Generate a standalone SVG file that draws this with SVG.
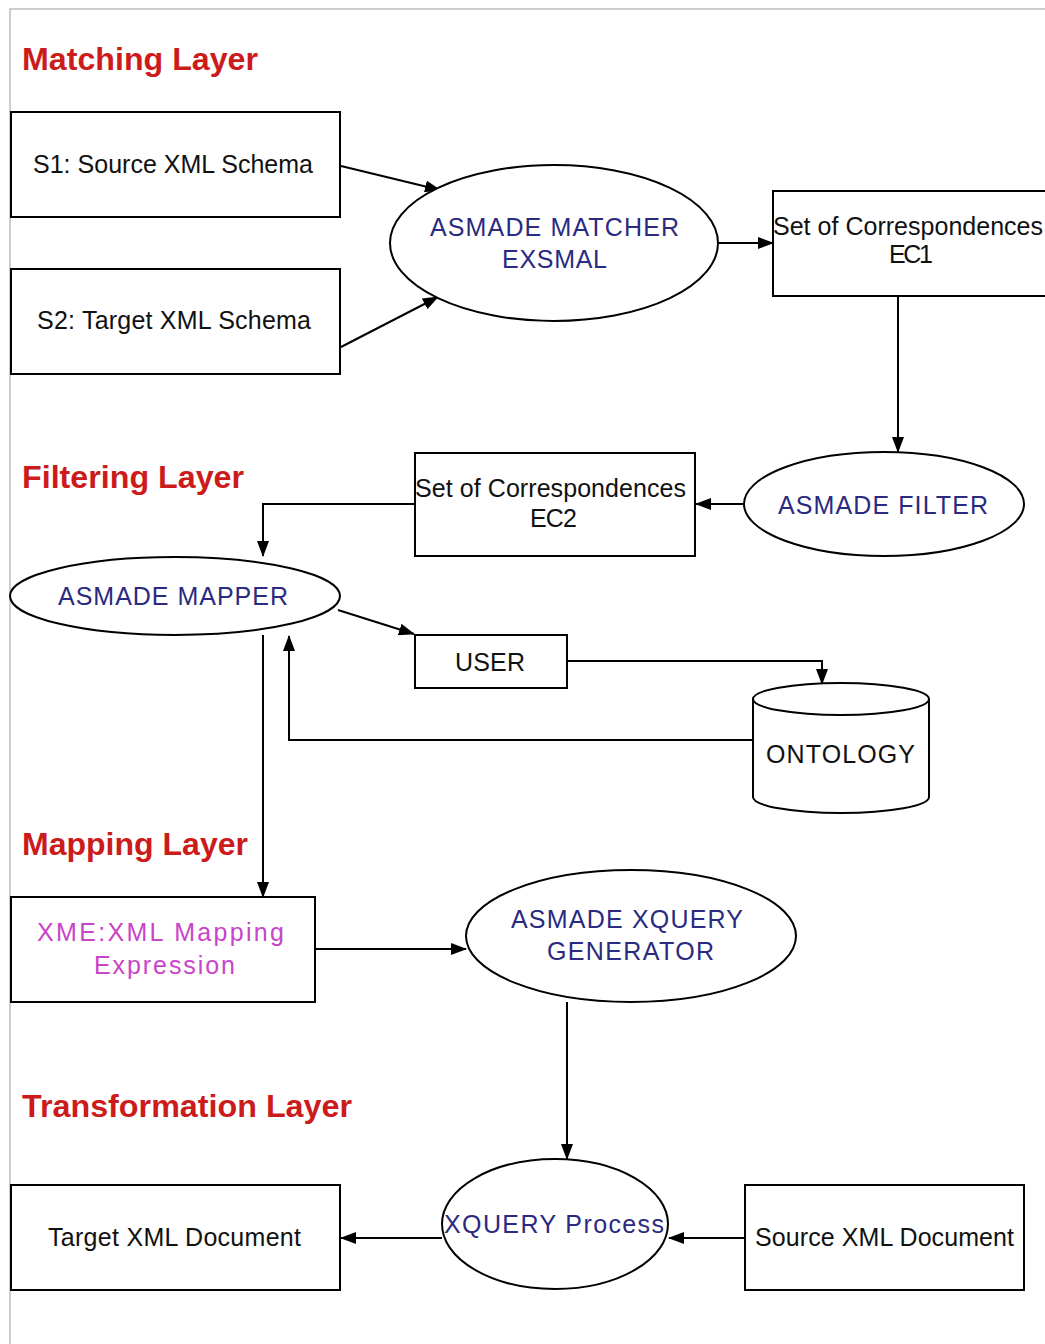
<svg xmlns="http://www.w3.org/2000/svg" width="1045" height="1344" viewBox="0 0 1045 1344">
  <defs>
    <marker id="arrow" markerUnits="userSpaceOnUse" markerWidth="16" markerHeight="12" refX="15" refY="6" orient="auto">
      <path d="M0,0 L16,6 L0,12 Z" fill="#000"/>
    </marker>
    <style>
      .frame { stroke: #bdbdbd; stroke-width: 1.5; fill: none; }
      .box { fill: #fff; stroke: #000; stroke-width: 2; }
      .shape { fill: #fff; stroke: #000; stroke-width: 2; }
      .edge { fill: none; stroke: #000; stroke-width: 2; marker-end: url(#arrow); }
      .layer { font-family: "Liberation Sans", Arial, sans-serif; font-weight: bold; font-size: 32px; fill: #cc1b1b; }
      .txt { font-family: "Liberation Sans", Arial, sans-serif; font-size: 25px; fill: #111; }
      .blue { fill: #2a2a80; }
      .pink { fill: #c844c8; }
    </style>
  </defs>

  <rect width="1045" height="1344" fill="#fff"/>
  <!-- outer frame (top and left edges) -->
  <path class="frame" d="M10,1344 L10,9 L1045,9"/>

  <!-- layer headings -->
  <g id="layer-labels">
    <text class="layer" x="22" y="70" textLength="236" lengthAdjust="spacingAndGlyphs">Matching Layer</text>
    <text class="layer" x="22" y="488" textLength="222" lengthAdjust="spacingAndGlyphs">Filtering Layer</text>
    <text class="layer" x="22" y="855" textLength="226" lengthAdjust="spacingAndGlyphs">Mapping Layer</text>
    <text class="layer" x="22" y="1117" textLength="330" lengthAdjust="spacingAndGlyphs">Transformation Layer</text>
  </g>

  <!-- connectors -->
  <g id="connectors">
    <path class="edge" d="M341,166 L440,190"/>
    <path class="edge" d="M341,347 L438,297"/>
    <path class="edge" d="M719,243 L773,243"/>
    <path class="edge" d="M898,296 L898,452"/>
    <path class="edge" d="M744,504 L696,504"/>
    <path class="edge" d="M415,504 L263,504 L263,556"/>
    <path class="edge" d="M338,610 L414,634"/>
    <path class="edge" d="M567,661 L822,661 L822,684"/>
    <path class="edge" d="M752,740 L289,740 L289,636"/>
    <path class="edge" d="M263,635 L263,897"/>
    <path class="edge" d="M315,949 L466,949"/>
    <path class="edge" d="M567,1002 L567,1159"/>
    <path class="edge" d="M745,1238 L669,1238"/>
    <path class="edge" d="M442,1238 L341,1238"/>
  </g>

  <g id="s1">
    <rect class="box" x="11" y="112" width="329" height="105"/>
    <text class="txt" x="33" y="173" textLength="280" lengthAdjust="spacing">S1: Source XML Schema</text>
  </g>

  <g id="s2">
    <rect class="box" x="11" y="269" width="329" height="105"/>
    <text class="txt" x="37" y="329" textLength="274" lengthAdjust="spacing">S2: Target XML Schema</text>
  </g>

  <g id="matcher">
    <ellipse class="shape" cx="554" cy="243" rx="164" ry="78"/>
    <text class="txt blue" x="430" y="236" textLength="249" lengthAdjust="spacing">ASMADE MATCHER</text>
    <text class="txt blue" x="502" y="268" textLength="105" lengthAdjust="spacing">EXSMAL</text>
  </g>

  <g id="ec1">
    <rect class="box" x="773" y="191" width="280" height="105"/>
    <text class="txt" x="773" y="235" textLength="270" lengthAdjust="spacing">Set of Correspondences</text>
    <text class="txt" x="889" y="263" textLength="44" lengthAdjust="spacing">EC1</text>
  </g>

  <g id="filter">
    <ellipse class="shape" cx="884" cy="504" rx="140" ry="52"/>
    <text class="txt blue" x="778" y="514" textLength="210" lengthAdjust="spacing">ASMADE FILTER</text>
  </g>

  <g id="ec2">
    <rect class="box" x="415" y="453" width="280" height="103"/>
    <text class="txt" x="415" y="497" textLength="271" lengthAdjust="spacing">Set of Correspondences</text>
    <text class="txt" x="530" y="527" textLength="47" lengthAdjust="spacing">EC2</text>
  </g>

  <g id="mapper">
    <ellipse class="shape" cx="175" cy="596" rx="165" ry="39"/>
    <text class="txt blue" x="58" y="605" textLength="230" lengthAdjust="spacing">ASMADE MAPPER</text>
  </g>

  <g id="user">
    <rect class="box" x="415" y="635" width="152" height="53"/>
    <text class="txt" x="455" y="671" textLength="70" lengthAdjust="spacing">USER</text>
  </g>

  <g id="ontology">
    <path class="shape" d="M753,699 L753,797 A88,16 0 0 0 929,797 L929,699"/>
    <ellipse class="shape" cx="841" cy="699" rx="88" ry="16"/>
    <text class="txt" x="766" y="763" textLength="149" lengthAdjust="spacing">ONTOLOGY</text>
  </g>

  <g id="xme">
    <rect class="box" x="11" y="897" width="304" height="105"/>
    <text class="txt pink" x="37" y="941" textLength="247" lengthAdjust="spacing">XME:XML Mapping</text>
    <text class="txt pink" x="94" y="974" textLength="141" lengthAdjust="spacing">Expression</text>
  </g>

  <g id="generator">
    <ellipse class="shape" cx="631" cy="936" rx="165" ry="66"/>
    <text class="txt blue" x="511" y="928" textLength="232" lengthAdjust="spacing">ASMADE XQUERY</text>
    <text class="txt blue" x="547" y="960" textLength="167" lengthAdjust="spacing">GENERATOR</text>
  </g>

  <g id="xquery-process">
    <ellipse class="shape" cx="555" cy="1224" rx="113" ry="65"/>
    <text class="txt blue" x="444" y="1233" textLength="220" lengthAdjust="spacing">XQUERY Process</text>
  </g>

  <g id="target-doc">
    <rect class="box" x="11" y="1185" width="329" height="105"/>
    <text class="txt" x="48" y="1246" textLength="253" lengthAdjust="spacing">Target XML Document</text>
  </g>

  <g id="source-doc">
    <rect class="box" x="745" y="1185" width="279" height="105"/>
    <text class="txt" x="755" y="1246" textLength="259" lengthAdjust="spacing">Source XML Document</text>
  </g>
</svg>
